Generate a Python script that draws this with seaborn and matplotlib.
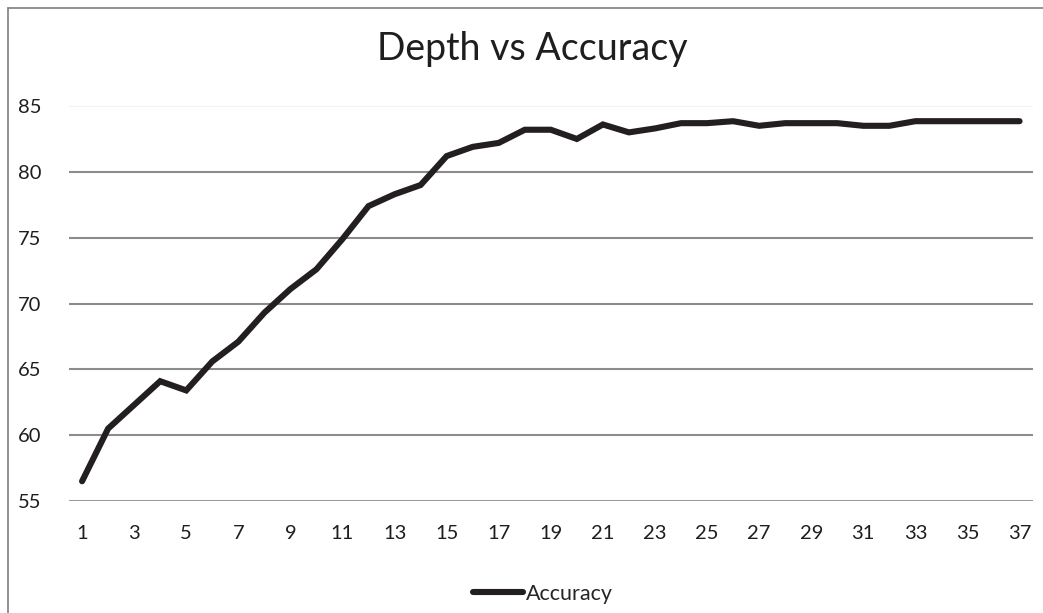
import numpy as np
import pandas as pd
import matplotlib.pyplot as plt
import seaborn as sns
from matplotlib.lines import Line2D

# ==========================
# DATA
# ==========================

depth = list(range(1, 38))

accuracy = [
    56.5, 60.5, 62.3, 64.1, 63.4, 65.6, 67.1, 69.3, 71.1, 72.6,
    74.9, 77.4, 78.3, 79.0, 81.2, 81.9, 82.2, 83.2, 83.2, 82.5,
    83.6, 83.0, 83.3, 83.7, 83.7, 83.85, 83.5, 83.7, 83.7, 83.7,
    83.5, 83.5, 83.85, 83.85, 83.85, 83.85, 83.85
]

x_ticks = list(range(1, 38, 2))
y_ticks = [55, 60, 65, 70, 75, 80, 85]

df = pd.DataFrame({"Depth": depth, "Accuracy": accuracy})

# ==========================
# PLOT
# ==========================

sns.set_style("white")
plt.rcParams["font.family"] = ["Lato", "DejaVu Sans"]

fig = plt.figure(figsize=(10.43, 6.13), dpi=100)
ax = fig.add_axes([0.0662, 0.1827, 0.9238, 0.6443])

for y in y_ticks:
    ax.axhline(
        y,
        color="#f2f2f2" if y == 85 else "#8c8c8c",
        linewidth=1.5 if y != 55 else 2,
        zorder=0
    )

sns.lineplot(
    data=df,
    x="Depth",
    y="Accuracy",
    color="#231f20",
    linewidth=4.4,
    solid_capstyle="round",
    solid_joinstyle="miter",
    label="Accuracy",
    ax=ax
)

ax.set_xlim(0.5, 37.5)
ax.set_ylim(55, 85)
ax.set_xticks(x_ticks)
ax.set_yticks(y_ticks)
ax.tick_params(axis="x", length=0, pad=17, labelsize=14.5, labelcolor="#1e1e1e")
ax.tick_params(axis="y", length=0, pad=20, labelsize=14.5, labelcolor="#1e1e1e")
ax.set_xlabel("")
ax.set_ylabel("")

for side in ["top", "right", "left", "bottom"]:
    ax.spines[side].set_visible(False)

fig.text(532 / 1043, 1 - 49 / 613, "Depth vs Accuracy",
         fontsize=27, ha="center", va="center", color="#1e1e1e")

ax.legend(
    loc="center",
    bbox_to_anchor=(543 / 1043, 1 - 594 / 613),
    bbox_transform=fig.transFigure,
    frameon=False,
    fontsize=15.5,
    handlelength=2.3,
    handletextpad=0.15
)

# chart frame (left and top edges)
fig.add_artist(Line2D([8 / 1043, 8 / 1043], [0, 1 - 8 / 613],
                      transform=fig.transFigure, color="#7f7f7f", linewidth=1.2))
fig.add_artist(Line2D([8 / 1043, 1], [1 - 8 / 613, 1 - 8 / 613],
                      transform=fig.transFigure, color="#7f7f7f", linewidth=1.2))

plt.savefig("out.png", dpi=100)
